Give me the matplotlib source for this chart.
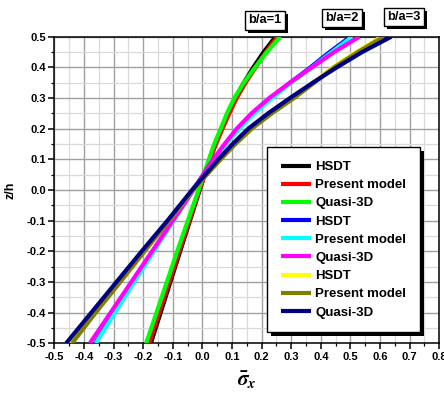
import matplotlib
matplotlib.use("Agg")
import matplotlib.pyplot as plt
from matplotlib.ticker import MultipleLocator, FormatStrFormatter
from matplotlib.patches import Rectangle

plt.rcParams['font.family'] = ['Liberation Sans', 'DejaVu Sans']
plt.rcParams['font.weight'] = 'bold'
plt.rcParams['mathtext.fontset'] = 'stix'

# thickness coordinate z/h
z = [-0.5, -0.4, -0.3, -0.2, -0.1, 0.0, 0.1, 0.15, 0.2, 0.25, 0.3, 0.35, 0.4, 0.45, 0.5]

# normalised axial stress for each model and aspect ratio b/a
hsdt_1 = [-0.174, -0.141, -0.108, -0.075, -0.042, -0.009, 0.025, 0.044, 0.065, 0.087, 0.111, 0.140, 0.172, 0.207, 0.247]
present_1 = [-0.180, -0.146, -0.112, -0.078, -0.044, -0.010, 0.026, 0.046, 0.068, 0.091, 0.116, 0.146, 0.180, 0.215, 0.253]
quasi_1 = [-0.190, -0.155, -0.120, -0.085, -0.049, -0.013, 0.022, 0.040, 0.062, 0.083, 0.108, 0.140, 0.178, 0.218, 0.263]

hsdt_2 = [-0.362, -0.297, -0.232, -0.166, -0.099, -0.032, 0.038, 0.078, 0.122, 0.172, 0.232, 0.297, 0.365, 0.430, 0.500]
present_2 = [-0.360, -0.295, -0.230, -0.164, -0.097, -0.030, 0.040, 0.080, 0.125, 0.176, 0.236, 0.300, 0.370, 0.437, 0.506]
quasi_2 = [-0.380, -0.310, -0.240, -0.170, -0.100, -0.030, 0.037, 0.075, 0.116, 0.166, 0.226, 0.295, 0.370, 0.445, 0.530]

hsdt_3 = [-0.445, -0.363, -0.280, -0.197, -0.114, -0.032, 0.060, 0.110, 0.164, 0.230, 0.305, 0.375, 0.440, 0.520, 0.605]
present_3 = [-0.440, -0.360, -0.277, -0.195, -0.113, -0.032, 0.062, 0.112, 0.167, 0.235, 0.310, 0.378, 0.445, 0.525, 0.612]
quasi_3 = [-0.460, -0.375, -0.290, -0.205, -0.118, -0.035, 0.054, 0.102, 0.155, 0.222, 0.296, 0.373, 0.454, 0.540, 0.638]

series = [
    ("HSDT", hsdt_1, "#000000"),
    ("Present model", present_1, "#ff0000"),
    ("Quasi-3D", quasi_1, "#00ff00"),
    ("HSDT", hsdt_2, "#0000ff"),
    ("Present model", present_2, "#00ffff"),
    ("Quasi-3D", quasi_2, "#ff00ff"),
    ("HSDT", hsdt_3, "#ffff00"),
    ("Present model", present_3, "#808000"),
    ("Quasi-3D", quasi_3, "#000080"),
]

ratio_labels = ["b/a=1", "b/a=2", "b/a=3"]
ratio_label_x = [0.212, 0.472, 0.680]
ratio_label_y = [0.553, 0.561, 0.564]

fig = plt.figure(figsize=(4.44, 3.94), dpi=100)
ax = fig.add_axes([0.1223, 0.1287, 0.8671, 0.7782])

for label, xs, color in series:
    ax.plot(xs, z, color=color, lw=3.0, label=label, solid_capstyle='butt', zorder=3)

ax.set_xlim(-0.5, 0.8)
ax.set_ylim(-0.5, 0.5)
ax.xaxis.set_major_locator(MultipleLocator(0.1))
ax.xaxis.set_minor_locator(MultipleLocator(0.05))
ax.yaxis.set_major_locator(MultipleLocator(0.1))
ax.yaxis.set_minor_locator(MultipleLocator(0.05))
ax.xaxis.set_major_formatter(FormatStrFormatter('%.1f'))
ax.yaxis.set_major_formatter(FormatStrFormatter('%.1f'))

ax.grid(which='major', color='#a0a0a0', lw=1.0, zorder=0)
ax.grid(which='minor', color='#d9d9d9', lw=0.9, zorder=0)
ax.set_axisbelow(True)

ax.tick_params(which='major', direction='out', length=4, width=1.1, labelsize=8, pad=2)
ax.tick_params(which='minor', direction='out', length=2, width=0.9)
ax.tick_params(top=False, right=False, which='both')
for lab in ax.get_xticklabels() + ax.get_yticklabels():
    lab.set_fontweight('bold')
for sp in ax.spines.values():
    sp.set_linewidth(1.1)

ax.set_xlabel(r'$\bar{\sigma}_x$', fontsize=15, fontweight='normal', labelpad=6)
ax.set_ylabel('z/h', fontsize=9, fontweight='bold', labelpad=7)

# aspect-ratio tags above the curves
tags = []
for text, tx, ty in zip(ratio_labels, ratio_label_x, ratio_label_y):
    t = ax.text(tx, ty, text, ha='center', va='center', fontsize=9.3,
                fontweight='bold', color='black', clip_on=False, zorder=6,
                bbox=dict(boxstyle='square,pad=0.25', fc='white', ec='black', lw=1))
    tags.append(t)

leg = ax.legend(loc='upper left', bbox_to_anchor=(0.5525, 0.640),
                borderaxespad=0, fancybox=False, framealpha=1,
                edgecolor='black', handlelength=2.3,
                handletextpad=0.3, labelspacing=0.45, borderpad=1.05,
                prop={'weight': 'bold', 'size': 9.5})
leg.get_frame().set_linewidth(1.0)
leg.set_zorder(6)

# solid black drop shadows behind the tags and the legend box
fig.canvas.draw()
renderer = fig.canvas.get_renderer()
boxes = [t.get_bbox_patch().get_window_extent(renderer) for t in tags]
boxes.append(leg.get_window_extent(renderer))
offsets = [3, 3, 3, 4]
for bb, off in zip(boxes, offsets):
    ax.add_artist(Rectangle((bb.x0 + off, bb.y0 - off), bb.width, bb.height,
                            transform=None, fc='black', ec='none',
                            zorder=5.5, clip_on=False))

fig.savefig('out.png', dpi=100)
